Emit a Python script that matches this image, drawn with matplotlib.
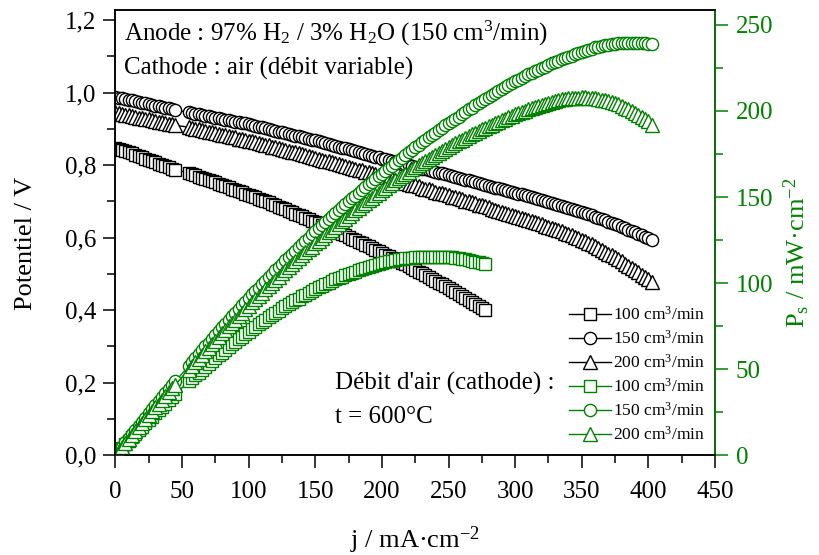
import matplotlib
matplotlib.use("Agg")
import matplotlib.pyplot as plt
from matplotlib.ticker import MultipleLocator, FuncFormatter

plt.rcParams['font.family'] = ['Liberation Serif', 'DejaVu Serif']
plt.rcParams['mathtext.fontset'] = 'custom'
plt.rcParams['mathtext.rm'] = 'Liberation Serif'
plt.rcParams['mathtext.it'] = 'Liberation Serif:italic'
plt.rcParams['mathtext.default'] = 'regular'

GREEN = '#008000'

# current density (mA/cm2) -- measurement stops at 45 and restarts at 55
j_150 = [0, 2.5, 5, 7.5, 10, 12.5, 15, 17.5, 20, 22.5, 25, 27.5, 30, 32.5, 35, 37.5, 40, 42.5, 45,
         55, 57.5, 60, 62.5, 65, 67.5, 70, 72.5, 75, 77.5, 80, 82.5, 85, 87.5, 90, 92.5, 95, 97.5, 100,
         102.5, 105, 107.5, 110, 112.5, 115, 117.5, 120, 122.5, 125, 127.5, 130, 132.5, 135, 137.5, 140, 142.5, 145, 147.5, 150,
         152.5, 155, 157.5, 160, 162.5, 165, 167.5, 170, 172.5, 175, 177.5, 180, 182.5, 185, 187.5, 190, 192.5, 195, 197.5, 200,
         202.5, 205, 207.5, 210, 212.5, 215, 217.5, 220, 222.5, 225, 227.5, 230, 232.5, 235, 237.5, 240, 242.5, 245, 247.5, 250,
         252.5, 255, 257.5, 260, 262.5, 265, 267.5, 270, 272.5, 275, 277.5, 280, 282.5, 285, 287.5, 290, 292.5, 295, 297.5, 300,
         302.5, 305, 307.5, 310, 312.5, 315, 317.5, 320, 322.5, 325, 327.5, 330, 332.5, 335, 337.5, 340, 342.5, 345, 347.5, 350,
         352.5, 355, 357.5, 360, 362.5, 365, 367.5, 370, 372.5, 375, 377.5, 380, 382.5, 385, 387.5, 390, 392.5, 395, 397.5, 400, 402.5]
j_200 = j_150

# cell potential (V)
V_100 = [0.848, 0.845, 0.842, 0.839, 0.836, 0.832, 0.829, 0.825, 0.822, 0.818, 0.815, 0.811, 0.808, 0.804, 0.801, 0.797, 0.794, 0.790, 0.787,
         0.778, 0.775, 0.772, 0.768, 0.765, 0.761, 0.758, 0.755, 0.752, 0.748, 0.745, 0.742, 0.739, 0.735, 0.732, 0.728, 0.725, 0.721, 0.718,
         0.714, 0.711, 0.707, 0.704, 0.700, 0.697, 0.693, 0.689, 0.685, 0.682, 0.678, 0.674, 0.670, 0.666, 0.662, 0.659, 0.655, 0.651, 0.647, 0.643,
         0.639, 0.635, 0.631, 0.627, 0.623, 0.619, 0.614, 0.610, 0.606, 0.602, 0.597, 0.593, 0.589, 0.585, 0.580, 0.576, 0.571, 0.567, 0.562, 0.558,
         0.553, 0.549, 0.544, 0.540, 0.535, 0.530, 0.526, 0.521, 0.516, 0.511, 0.506, 0.501, 0.496, 0.491, 0.486, 0.481, 0.476, 0.471, 0.465, 0.460,
         0.455, 0.449, 0.444, 0.438, 0.433, 0.427, 0.422, 0.416, 0.411, 0.405, 0.400]
V_150 = [0.988, 0.986, 0.984, 0.982, 0.980, 0.978, 0.976, 0.974, 0.972, 0.970, 0.968, 0.966, 0.964, 0.962, 0.960, 0.958, 0.956, 0.954, 0.952,
         0.945, 0.943, 0.941, 0.940, 0.938, 0.936, 0.934, 0.933, 0.931, 0.929, 0.927, 0.925, 0.923, 0.922, 0.920, 0.918, 0.916, 0.915, 0.913,
         0.911, 0.908, 0.906, 0.904, 0.901, 0.899, 0.897, 0.895, 0.892, 0.890, 0.888, 0.886, 0.883, 0.881, 0.879, 0.877, 0.874, 0.872, 0.870, 0.868,
         0.866, 0.863, 0.861, 0.858, 0.856, 0.853, 0.851, 0.848, 0.846, 0.843, 0.841, 0.838, 0.836, 0.833, 0.831, 0.828, 0.826, 0.823, 0.821, 0.818,
         0.816, 0.813, 0.811, 0.809, 0.806, 0.804, 0.802, 0.800, 0.797, 0.795, 0.792, 0.790, 0.788, 0.786, 0.783, 0.781, 0.779, 0.777, 0.774, 0.772,
         0.769, 0.767, 0.764, 0.762, 0.760, 0.758, 0.755, 0.753, 0.750, 0.748, 0.745, 0.743, 0.740, 0.738, 0.736, 0.734, 0.731, 0.729, 0.726, 0.724,
         0.721, 0.719, 0.716, 0.714, 0.711, 0.708, 0.705, 0.703, 0.700, 0.698, 0.695, 0.692, 0.689, 0.687, 0.684, 0.681, 0.678, 0.676, 0.673, 0.670,
         0.667, 0.664, 0.661, 0.658, 0.655, 0.651, 0.648, 0.644, 0.641, 0.637, 0.634, 0.630, 0.626, 0.622, 0.618, 0.614, 0.610, 0.606, 0.602, 0.598, 0.593]
V_200 = [0.945, 0.943, 0.941, 0.939, 0.937, 0.935, 0.933, 0.931, 0.929, 0.928, 0.926, 0.924, 0.922, 0.920, 0.918, 0.916, 0.914, 0.912, 0.910,
         0.904, 0.902, 0.900, 0.898, 0.896, 0.894, 0.892, 0.890, 0.888, 0.886, 0.884, 0.882, 0.880, 0.878, 0.876, 0.873, 0.871, 0.869, 0.867,
         0.865, 0.863, 0.860, 0.858, 0.856, 0.854, 0.851, 0.849, 0.847, 0.845, 0.842, 0.840, 0.837, 0.835, 0.832, 0.830, 0.827, 0.825, 0.822, 0.820,
         0.817, 0.815, 0.812, 0.810, 0.807, 0.805, 0.802, 0.800, 0.797, 0.795, 0.792, 0.790, 0.787, 0.785, 0.782, 0.780, 0.777, 0.775, 0.772, 0.770,
         0.767, 0.765, 0.762, 0.760, 0.757, 0.754, 0.751, 0.749, 0.746, 0.744, 0.741, 0.738, 0.735, 0.733, 0.730, 0.727, 0.724, 0.722, 0.719, 0.716,
         0.713, 0.711, 0.708, 0.705, 0.702, 0.700, 0.697, 0.694, 0.691, 0.689, 0.686, 0.683, 0.680, 0.677, 0.674, 0.671, 0.668, 0.666, 0.663, 0.660,
         0.657, 0.654, 0.651, 0.648, 0.645, 0.642, 0.639, 0.636, 0.633, 0.630, 0.627, 0.624, 0.620, 0.617, 0.613, 0.610, 0.606, 0.602, 0.598, 0.594,
         0.590, 0.585, 0.581, 0.576, 0.571, 0.566, 0.561, 0.556, 0.551, 0.545, 0.540, 0.534, 0.528, 0.522, 0.516, 0.510, 0.504, 0.498, 0.492, 0.485, 0.477]
j_100 = j_150[:len(V_100)]

# power density (mW/cm2)
P_100 = [0, 2.1, 4.2, 6.3, 8.4, 10.4, 12.4, 14.4, 16.4, 18.4, 20.4, 22.3, 24.2, 26.1, 28.0, 29.9, 31.8, 33.6, 35.4,
         42.8, 44.6, 46.3, 48.0, 49.7, 51.4, 53.1, 54.7, 56.4, 58.0, 59.6, 61.2, 62.8, 64.3, 65.9, 67.3, 68.9, 70.3, 71.8,
         73.2, 74.7, 76.0, 77.4, 78.8, 80.2, 81.4, 82.7, 83.9, 85.3, 86.5, 87.6, 88.8, 89.9, 91.0, 92.3, 93.3, 94.4, 95.4, 96.5,
         97.5, 98.4, 99.4, 100.3, 101.2, 102.1, 102.9, 103.7, 104.5, 105.4, 106.0, 106.7, 107.5, 108.2, 108.8, 109.4, 109.9, 110.6, 111.0, 111.6,
         112.0, 112.6, 112.9, 113.4, 113.7, 114.0, 114.4, 114.6, 114.8, 115.0, 115.1, 115.2, 115.3, 115.4, 115.4, 115.4, 115.4, 115.4, 115.1, 115.0,
         114.9, 114.5, 114.3, 113.9, 113.7, 113.2, 112.9, 112.3, 112.0, 111.4, 111.0]
P_150 = [0, 2.5, 4.9, 7.4, 9.8, 12.2, 14.6, 17.0, 19.4, 21.8, 24.2, 26.6, 28.9, 31.3, 33.6, 35.9, 38.2, 40.5, 42.8,
         52.0, 54.2, 56.5, 58.8, 61.0, 63.2, 65.4, 67.6, 69.8, 72.0, 74.2, 76.3, 78.5, 80.7, 82.8, 84.9, 87.0, 89.2, 91.3,
         93.4, 95.3, 97.4, 99.4, 101.4, 103.4, 105.4, 107.4, 109.3, 111.3, 113.2, 115.2, 117.0, 118.9, 120.9, 122.8, 124.5, 126.4, 128.3, 130.2,
         132.1, 133.8, 135.6, 137.3, 139.1, 140.7, 142.5, 144.2, 145.9, 147.5, 149.3, 150.8, 152.6, 154.1, 155.8, 157.3, 159.0, 160.5, 162.1, 163.6,
         165.2, 166.7, 168.3, 169.9, 171.3, 172.9, 174.4, 176.0, 177.3, 178.9, 180.2, 181.7, 183.2, 184.7, 186.0, 187.4, 188.9, 190.4, 191.6, 193.0,
         194.2, 195.6, 196.7, 198.1, 199.5, 200.9, 202.0, 203.3, 204.4, 205.7, 206.7, 208.0, 209.1, 210.3, 211.6, 212.9, 213.8, 215.1, 216.0, 217.2,
         218.1, 219.3, 220.2, 221.3, 222.2, 223.0, 223.8, 225.0, 225.8, 226.9, 227.6, 228.4, 229.1, 230.2, 230.9, 231.5, 232.2, 233.2, 233.9, 234.5,
         235.1, 235.7, 236.3, 236.9, 237.4, 237.6, 238.1, 238.3, 238.8, 238.9, 239.3, 239.4, 239.5, 239.5, 239.5, 239.5, 239.4, 239.4, 239.3, 239.2, 238.7]
P_200 = [0, 2.4, 4.7, 7.1, 9.4, 11.7, 14.0, 16.3, 18.6, 20.9, 23.2, 25.4, 27.7, 29.9, 32.1, 34.4, 36.6, 38.8, 41.0,
         49.7, 51.9, 54.0, 56.1, 58.2, 60.3, 62.4, 64.5, 66.6, 68.7, 70.7, 72.8, 74.8, 76.8, 78.8, 80.8, 82.7, 84.7, 86.7,
         88.7, 90.6, 92.5, 94.4, 96.3, 98.2, 100.0, 101.9, 103.8, 105.6, 107.4, 109.2, 110.9, 112.7, 114.4, 116.2, 117.8, 119.6, 121.2, 123.0,
         124.7, 126.3, 127.9, 129.6, 131.1, 132.8, 134.3, 136.0, 137.5, 139.1, 140.6, 142.2, 143.6, 145.2, 146.6, 148.2, 149.6, 151.1, 152.5, 154.0,
         155.3, 156.8, 158.1, 159.6, 160.9, 162.1, 163.3, 164.8, 166.0, 167.4, 168.6, 169.7, 170.9, 172.3, 173.4, 174.5, 175.6, 176.9, 177.9, 179.0,
         180.0, 181.3, 182.3, 183.3, 184.3, 185.5, 186.4, 187.4, 188.3, 189.5, 190.4, 191.2, 192.1, 193.0, 193.8, 194.6, 195.4, 196.5, 197.2, 198.0,
         198.7, 199.5, 200.2, 200.9, 201.6, 202.2, 202.9, 203.5, 204.1, 204.8, 205.3, 205.9, 206.2, 206.7, 206.9, 207.4, 207.6, 207.7, 207.8, 207.9,
         208.0, 207.7, 207.7, 207.4, 207.0, 206.6, 206.2, 205.7, 205.3, 204.4, 203.9, 202.9, 202.0, 201.0, 200.0, 198.9, 197.8, 196.7, 195.6, 194.0, 192.0]

labels = ['100 cm$^3$/min', '150 cm$^3$/min', '200 cm$^3$/min']
markers = ['s', 'o', '^']
msizes = [8.5, 8.8, 9.5]

fig = plt.figure(figsize=(8.19, 5.55), dpi=100)
ax = fig.add_axes([0.141, 0.180, 0.732, 0.802])
ax2 = ax.twinx()

handles = []
for j, V, m, ms, lab in zip([j_100, j_150, j_200], [V_100, V_150, V_200], markers, msizes, labels):
    h, = ax.plot(j, V, color='black', lw=1.0, marker=m, ms=ms, mfc='white',
                 mec='black', mew=1.0, label=lab)
    handles.append(h)
for j, P, m, ms, lab in zip([j_100, j_150, j_200], [P_100, P_150, P_200], markers, msizes, labels):
    h, = ax2.plot(j, P, color=GREEN, lw=1.0, marker=m, ms=ms, mfc='white',
                  mec=GREEN, mew=1.0, label=lab)
    handles.append(h)

ax.set_xlim(0, 450)
ax.set_ylim(0, 1.2276)
ax2.set_ylim(0, 258.7)

ax.xaxis.set_major_locator(MultipleLocator(50))
ax.xaxis.set_minor_locator(MultipleLocator(25))
ax.yaxis.set_major_locator(MultipleLocator(0.2))
ax.yaxis.set_minor_locator(MultipleLocator(0.1))
ax.yaxis.set_major_formatter(FuncFormatter(lambda v, p: f"{v:.1f}".replace('.', ',')))
ax2.yaxis.set_major_locator(MultipleLocator(50))
ax2.yaxis.set_minor_locator(MultipleLocator(25))

for a in (ax, ax2):
    for s in a.spines.values():
        s.set_linewidth(1.1)
ax2.spines['right'].set_color(GREEN)
ax.tick_params(which='both', direction='out', width=1.1, labelsize=18, top=False, right=False)
ax.tick_params(which='major', length=9)
ax.tick_params(which='minor', length=5.5)
ax.tick_params(axis='x', which='major', pad=10)
ax.tick_params(axis='y', which='major', pad=5)
ax2.tick_params(which='both', direction='out', width=1.1, labelsize=18, colors=GREEN)
ax2.tick_params(which='major', length=9, pad=6)
ax2.tick_params(which='minor', length=5.5)

ax.set_xlabel('j / mA·cm$^{-2}$', fontsize=19)
ax.set_ylabel('Potentiel / V', fontsize=19)
ax2.set_ylabel('P$_s$ / mW·cm$^{-2}$', fontsize=19, color=GREEN)
ax.xaxis.set_label_coords(0.5, -0.157)
ax.yaxis.set_label_coords(-0.131, 0.476)
ax2.yaxis.set_label_coords(1.111, 0.454)

ax.text(0.014, 0.948, 'Anode : 97% H$_2$ / 3% H$_2$O (150 cm$^3$/min)', transform=ax.transAxes,
        fontsize=18, va='center', ha='left')
ax.text(0.014, 0.868, 'Cathode : air (débit variable)', transform=ax.transAxes,
        fontsize=18, va='center', ha='left')
ax.text(0.366, 0.162, "Débit d'air (cathode) :", transform=ax.transAxes,
        fontsize=18, va='center', ha='left')
ax.text(0.366, 0.085, 't = 600°C', transform=ax.transAxes,
        fontsize=18, va='center', ha='left')

ax2.legend(handles=handles, loc='upper left', bbox_to_anchor=(557 / 819, 1 - 294 / 555),
           bbox_transform=fig.transFigure, frameon=False, fontsize=12.5, numpoints=1,
           handlelength=2.4, handletextpad=0.15, labelspacing=0.35, borderpad=0.2)

fig.savefig('out.png', dpi=100)
